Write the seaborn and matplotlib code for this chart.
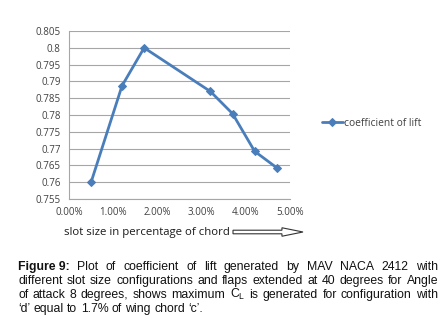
import matplotlib
matplotlib.use("Agg")
import matplotlib.pyplot as plt
import seaborn as sns
import pandas as pd
from matplotlib.patches import FancyArrow

# data
slot_size = [0.005, 0.012, 0.017, 0.032, 0.037, 0.042, 0.047]
cl_values = [0.7600, 0.7887, 0.8000, 0.7870, 0.7804, 0.7692, 0.7643]
y_ticks = [0.755, 0.76, 0.765, 0.77, 0.775, 0.78, 0.785, 0.79, 0.795, 0.8, 0.805]
y_tick_labels = ["0.755", "0.76", "0.765", "0.77", "0.775", "0.78", "0.785", "0.79", "0.795", "0.8", "0.805"]
x_ticks = [0.0, 0.01, 0.02, 0.03, 0.04, 0.05]
x_tick_labels = ["0.00%", "1.00%", "2.00%", "3.00%", "4.00%", "5.00%"]
series_name = "coefficient of lift"

caption_lines = [
    "Plot of coefficient of lift generated by MAV NACA 2412 with",
    "different slot size configurations and flaps extended at 40 degrees for Angle",
    "of attack 8 degrees, shows maximum C$_\\mathregular{L}$ is generated for configuration with",
    "\u2018d\u2019 equal to 1.7% of wing chord \u2018c\u2019.",
]

df = pd.DataFrame({"slot": slot_size, "cl": cl_values})

sns.set_style("white")
plt.rcParams["font.family"] = ["Open Sans", "DejaVu Sans"]

fig = plt.figure(figsize=(4.48, 3.26), dpi=100)
ax = fig.add_axes([69 / 448, 1 - 199 / 326, 221 / 448, 168 / 326])

line_color = "#4a7ebb"
sns.lineplot(data=df, x="slot", y="cl", ax=ax, color=line_color, linewidth=2,
             marker="D", markersize=4, markeredgecolor=line_color, label=series_name)

ax.set_xlim(0, 0.05)
ax.set_ylim(0.755, 0.805)
ax.set_yticks(y_ticks)
ax.set_yticklabels(y_tick_labels)
ax.set_xticks(x_ticks)
ax.set_xticklabels(x_tick_labels)
ax.yaxis.grid(True, color="#a6a6a6", linewidth=0.8)
ax.xaxis.grid(False)
ax.set_axisbelow(True)
for s in ["top", "right"]:
    ax.spines[s].set_visible(False)
for s in ["left", "bottom"]:
    ax.spines[s].set_color("#a6a6a6")
    ax.spines[s].set_linewidth(0.8)
ax.tick_params(axis="both", labelsize=7, colors="#404040", length=3, direction="out",
               color="#a6a6a6", width=0.8, pad=3)
ax.set_xlabel("slot size in percentage of chord", fontsize=8.2, color="#1a1a1a")
ax.xaxis.set_label_coords((147 - 69) / 221, (199 - 232) / 168)
ax.xaxis.label.set_va("center")
ax.set_ylabel("")

leg = ax.legend(loc="center left", bbox_to_anchor=((322 - 69) / 221, 0.45), frameon=False,
                fontsize=7.4, handlelength=2.0, handletextpad=0.1, borderpad=0,
                borderaxespad=0)
for t in leg.get_texts():
    t.set_color("#404040")

# hollow arrow next to the x label
fig.patches.append(FancyArrow(233 / 448, 1 - 232 / 326, 70 / 448, 0, width=0.011,
                              head_width=0.026, head_length=0.047, length_includes_head=True,
                              transform=fig.transFigure, facecolor="white",
                              edgecolor="#333333", linewidth=0.8))

# caption, justified between left and right margins
cap_font = dict(family="Liberation Sans", size=8.8, color="#111111")
left, right = 18 / 448, 438 / 448
ys = [1 - 270 / 326, 1 - 284 / 326, 1 - 298 / 326, 1 - 312 / 326]
fig.canvas.draw()
renderer = fig.canvas.get_renderer()
inv = fig.transFigure.inverted()


def width_of(t):
    bb = t.get_window_extent(renderer)
    return inv.transform((bb.x1, 0))[0] - inv.transform((bb.x0, 0))[0]


probe1 = fig.text(0.5, 0.5, "a a", **cap_font)
probe2 = fig.text(0.5, 0.5, "aa", **cap_font)
space = width_of(probe1) - width_of(probe2)
probe1.remove()
probe2.remove()

for i, (line, y) in enumerate(zip(caption_lines, ys)):
    words = line.split(" ")
    items = []
    if i == 0:
        items.append(fig.text(0, y, "Figure 9:", fontweight="bold", va="baseline", **cap_font))
    for w in words:
        items.append(fig.text(0, y, w, va="baseline", **cap_font))
    widths = [width_of(t) for t in items]
    if i < 3:
        gap = (right - left - sum(widths)) / (len(items) - 1)
    else:
        gap = space
    x = left
    for t, w in zip(items, widths):
        t.set_x(x)
        x += w + gap

fig.savefig("out.png", dpi=100)
